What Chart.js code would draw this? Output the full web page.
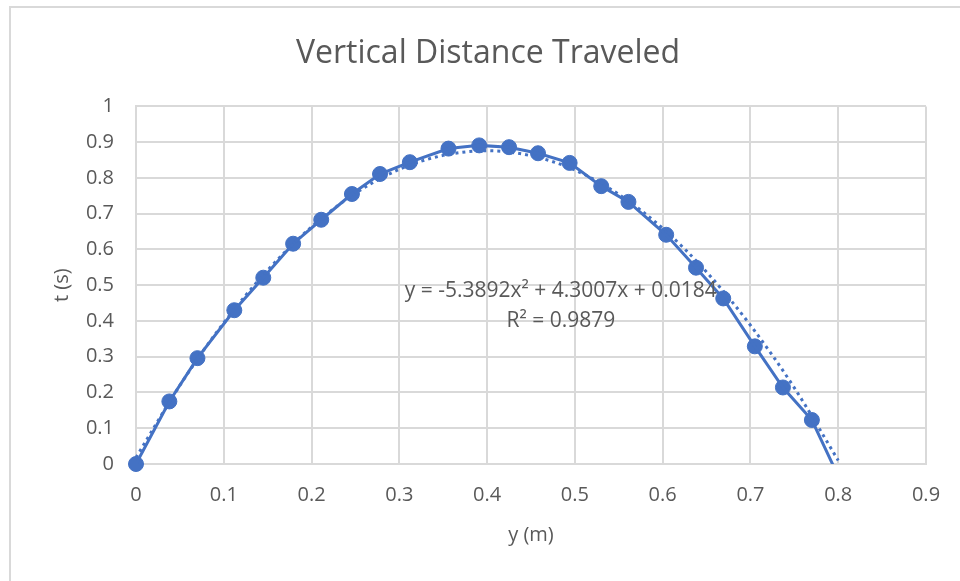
<!DOCTYPE html>
<html>
<head>
<meta charset="utf-8">
<title>Vertical Distance Traveled</title>
<script src="https://cdn.jsdelivr.net/npm/chart.js@4.4.0/dist/chart.umd.min.js"></script>
<style>
    html, body { margin: 0; padding: 0; background: #fff; }
    #wrap { width: 960px; height: 581px; }
</style>
</head>
<body>
<div id="wrap"><canvas id="distChart" width="960" height="581"></canvas></div>
<script>
// measured points: y (m) on x axis, t (s) on y axis
const posY = [0, 0.038, 0.070, 0.112, 0.145, 0.179, 0.211, 0.246, 0.278, 0.312, 0.356, 0.391,
              0.425, 0.458, 0.494, 0.530, 0.561, 0.604, 0.638, 0.669, 0.705, 0.737, 0.770, 0.803];
const timeT = [0, 0.175, 0.296, 0.430, 0.521, 0.616, 0.683, 0.755, 0.811, 0.844, 0.882, 0.891,
               0.886, 0.869, 0.842, 0.777, 0.733, 0.641, 0.549, 0.463, 0.329, 0.214, 0.123, -0.05];

// dotted trendline
const trendX = [0, 0.05, 0.1, 0.15, 0.2, 0.25, 0.3, 0.35, 0.4, 0.45, 0.5, 0.55, 0.6, 0.65, 0.7, 0.75, 0.8];
const trendT = [0.018, 0.220, 0.395, 0.542, 0.663, 0.757, 0.824, 0.863, 0.876, 0.862, 0.822, 0.754,
                0.659, 0.537, 0.388, 0.213, 0.010];

const xTickLabels = ['0', '0.1', '0.2', '0.3', '0.4', '0.5', '0.6', '0.7', '0.8', '0.9'];
const yTickLabels = ['0', '0.1', '0.2', '0.3', '0.4', '0.5', '0.6', '0.7', '0.8', '0.9', '1'];

const equationLines = ['y = -5.3892x² + 4.3007x + 0.0184', 'R² = 0.9879'];

const BLUE = '#4472C4';
const TEXT = '#595959';
const GRID = '#d9d9d9';
const FONT = "'Open Sans', sans-serif";

const points = posY.map((x, i) => ({ x: x, y: timeT[i] }));
const trend = trendX.map((x, i) => ({ x: x, y: trendT[i] }));

// excel style frame + trendline label
const extras = {
    id: 'extras',
    beforeDraw(chart) {
        const ctx = chart.ctx;
        ctx.save();
        ctx.fillStyle = '#fff';
        ctx.fillRect(0, 0, chart.width, chart.height);
        ctx.strokeStyle = GRID;
        ctx.lineWidth = 2;
        ctx.strokeRect(10, 7, chart.width + 20, chart.height + 20);
        ctx.restore();
    },
    afterDatasetsDraw(chart) {
        const ctx = chart.ctx;
        const xs = chart.scales.x, ys = chart.scales.y;
        ctx.save();
        ctx.fillStyle = TEXT;
        ctx.font = "21px " + FONT;
        ctx.textAlign = 'center';
        ctx.textBaseline = 'middle';
        ctx.fillText(equationLines[0], xs.getPixelForValue(0.484), ys.getPixelForValue(0.485));
        ctx.fillText(equationLines[1], xs.getPixelForValue(0.484), ys.getPixelForValue(0.40));
        ctx.restore();
    }
};

new Chart(document.getElementById('distChart'), {
    type: 'scatter',
    data: {
        datasets: [
            {
                label: 'trend',
                data: trend,
                showLine: true,
                borderColor: BLUE,
                borderWidth: 3,
                borderDash: [3, 4],
                pointRadius: 0,
                tension: 0.4,
                cubicInterpolationMode: 'monotone',
                clip: 6,
                order: 0
            },
            {
                label: 'line',
                data: points,
                showLine: true,
                borderColor: BLUE,
                borderWidth: 3,
                pointRadius: 0,
                tension: 0,
                order: 1
            },
            {
                label: 'markers',
                data: points.filter(p => p.y >= 0),
                showLine: false,
                backgroundColor: BLUE,
                borderColor: BLUE,
                pointRadius: 7.5,
                clip: false,
                order: 1
            }
        ]
    },
    options: {
        responsive: false,
        animation: false,
        layout: { padding: { left: 50, right: 34, top: 0, bottom: 27 } },
        plugins: {
            legend: { display: false },
            tooltip: { enabled: false },
            title: {
                display: true,
                text: 'Vertical Distance Traveled',
                color: TEXT,
                font: { family: FONT, size: 32, weight: 'normal' },
                padding: { top: 35, bottom: 33 }
            }
        },
        scales: {
            x: {
                type: 'linear',
                min: 0,
                max: 0.9,
                afterFit: s => { s.height = 90; },
                ticks: {
                    stepSize: 0.1,
                    color: TEXT,
                    padding: 19,
                    font: { family: FONT, size: 20 },
                    callback: (v, i) => xTickLabels[i]
                },
                grid: { color: GRID, lineWidth: 2, drawTicks: false },
                border: { color: GRID, width: 2 },
                title: {
                    display: true,
                    text: 'y (m)',
                    color: TEXT,
                    font: { family: FONT, size: 20 },
                    padding: { top: 0, bottom: 7 }
                }
            },
            y: {
                min: 0,
                max: 1,
                afterFit: s => { s.width = 86; },
                ticks: {
                    stepSize: 0.1,
                    color: TEXT,
                    padding: 22,
                    font: { family: FONT, size: 20 },
                    callback: (v, i) => yTickLabels[i]
                },
                grid: { color: GRID, lineWidth: 2, drawTicks: false },
                border: { color: GRID, width: 2 },
                title: {
                    display: true,
                    text: 't (s)',
                    color: TEXT,
                    font: { family: FONT, size: 20 },
                    padding: { top: 0, bottom: 0 }
                }
            }
        }
    },
    plugins: [extras]
});
</script>
</body>
</html>
